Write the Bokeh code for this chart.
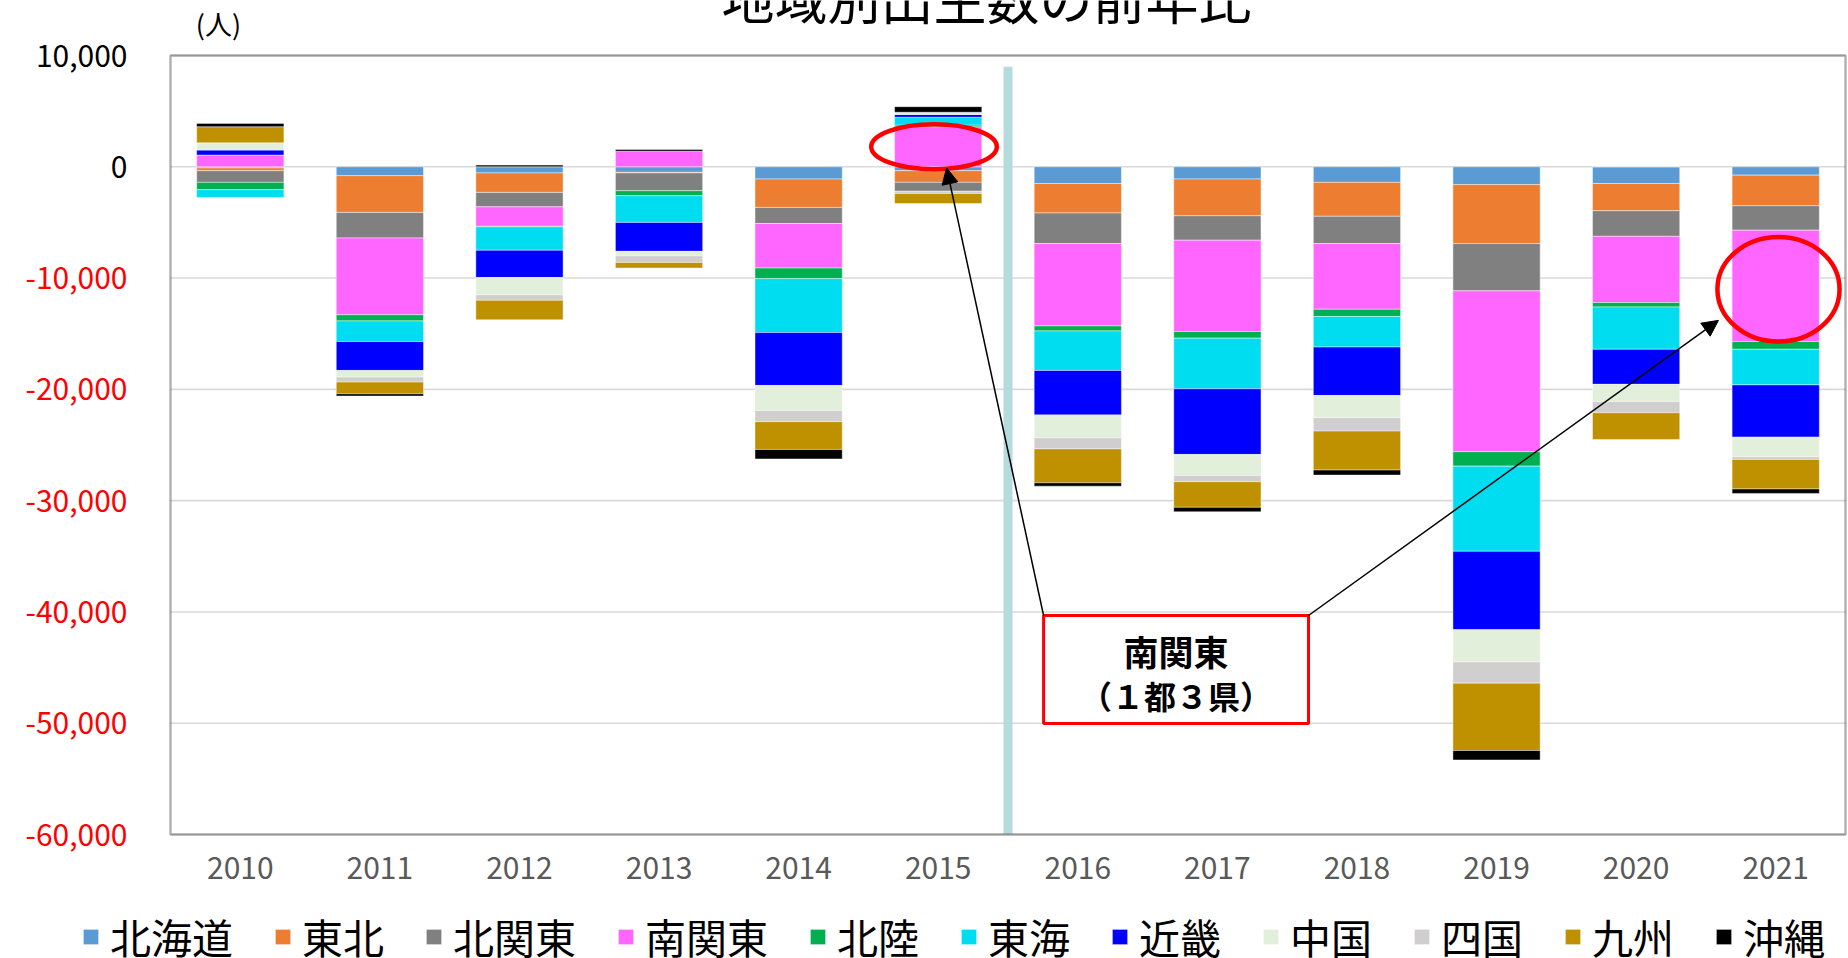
from bokeh.plotting import figure
from bokeh.models import (ColumnDataSource, Range1d, LinearAxis, FixedTicker,
                          Legend, LegendItem, Label, BoxAnnotation, Arrow, NormalHead)
from bokeh.embed import file_html
from bokeh.resources import INLINE

# ---- data: year-on-year change in births by region (persons) ----
years = ["2010", "2011", "2012", "2013", "2014", "2015",
         "2016", "2017", "2018", "2019", "2020", "2021"]
regions = ["北海道", "東北", "北関東", "南関東", "北陸", "東海",
           "近畿", "中国", "四国", "九州", "沖縄"]

hokkaido     = [-100, -800, -550, -500, -1100, -350, -1500, -1100, -1400, -1600, -1500, -750]
tohoku       = [-250, -3300, -1750, -50, -2550, -1050, -2650, -3300, -3050, -5300, -2450, -2750]
kita_kanto   = [-1050, -2300, -1300, -1600, -1450, -800, -2750, -2200, -2450, -4250, -2300, -2200]
minami_kanto = [1050, -6900, -1750, 1400, -4000, 3600, -7400, -8200, -5900, -14450, -5950, -10000]
hokuriku     = [-650, -550, -50, -450, -950, 150, -450, -600, -650, -1300, -400, -700]
tokai        = [-700, -1850, -2100, -2400, -4850, 700, -3550, -4550, -2750, -7650, -3800, -3200]
kinki        = [450, -2600, -2450, -2600, -4750, 250, -4000, -5900, -4350, -7050, -3150, -4700]
chugoku      = [650, -600, -1550, -400, -2250, 200, -2050, -1900, -2000, -2900, -1550, -1750]
shikoku      = [0, -450, -500, -600, -1000, -200, -1000, -550, -1200, -1900, -1000, -250]
kyushu       = [1450, -1050, -1750, -500, -2500, -900, -3050, -2300, -3500, -6050, -2400, -2650]
okinawa      = [300, -200, 150, 150, -850, 500, -300, -400, -450, -850, 0, -400]

series = [hokkaido, tohoku, kita_kanto, minami_kanto, hokuriku, tokai,
          kinki, chugoku, shikoku, kyushu, okinawa]
colors = ["#5B9BD5", "#ED7D31", "#808080", "#FF66FF", "#00B050", "#00DCF0",
          "#0000FF", "#E2EFDA", "#D0CECE", "#BF9000", "#000000"]

y_ticks = [10000, 0, -10000, -20000, -30000, -40000, -50000, -60000]
Y_MIN, Y_MAX = -60000, 10000

FONT = "Noto Sans CJK JP"

# ---- canvas geometry: the plot box sits inside a full-canvas frame ----
W, H = 1848, 958
BOX_L, BOX_R, BOX_T, BOX_B = 170, 1845, 55, 834          # pixels
n = len(years)
ppx = (BOX_R - BOX_L) / n                                 # pixels per category
ppy = (BOX_B - BOX_T) / (Y_MAX - Y_MIN)                   # pixels per person

x_range = Range1d(-BOX_L / ppx, n + (W - BOX_R) / ppx)
y_range = Range1d(Y_MIN - (H - BOX_B) / ppy, Y_MAX + BOX_T / ppy)

p = figure(width=W, height=H, x_range=x_range, y_range=y_range,
           x_axis_type=None, y_axis_type=None,
           output_backend="svg", toolbar_location=None,
           min_border=0, min_border_left=0, min_border_right=0,
           min_border_top=0, min_border_bottom=0)
p.title.visible = False
p.outline_line_color = None
p.background_fill_color = "white"
p.border_fill_color = "white"
p.xgrid.visible = False
p.ygrid.visible = False

xs = [i + 0.5 for i in range(n)]

# horizontal grid lines across the plot box
p.segment(x0=[0] * len(y_ticks), x1=[n] * len(y_ticks), y0=y_ticks, y1=y_ticks,
          line_color="#D9D9D9", line_width=1.6)

# divider between 2015 and 2016
div_x = years.index("2016")
p.segment(x0=[div_x], y0=[Y_MIN], x1=[div_x], y1=[9000],
          line_color="#B4DCDF", line_width=9)

# ---- stacked bars: positives stacked upward, negatives downward ----
pos_base = [0] * n
neg_base = [0] * n
renderers = []
stack_ranges = {}
for name, vals, col in zip(regions, series, colors):
    bottoms, tops = [], []
    for i, v in enumerate(vals):
        if v >= 0:
            b = pos_base[i]
            pos_base[i] = b + v
        else:
            b = neg_base[i]
            neg_base[i] = b + v
        bottoms.append(b)
        tops.append(b + v)
    stack_ranges[name] = (bottoms, tops)
    src = ColumnDataSource(dict(x=xs, bottom=bottoms, top=tops))
    r = p.vbar(x="x", bottom="bottom", top="top", width=0.625, source=src,
               fill_color=col, line_color="white", line_width=0.8, line_alpha=0.55)
    renderers.append(r)

# plot box outline
p.add_layout(BoxAnnotation(left=0, right=n, top=Y_MAX, bottom=Y_MIN,
                           fill_alpha=0, line_color="black", line_width=2.5))

# ---- x axis (years), pinned to the bottom of the plot box ----
xaxis = LinearAxis(ticker=FixedTicker(ticks=xs, minor_ticks=[]),
                   major_label_overrides={x: yr for x, yr in zip(xs, years)},
                   fixed_location=Y_MIN)
xaxis.axis_line_color = None
xaxis.major_tick_line_color = None
xaxis.minor_tick_line_color = None
xaxis.major_tick_out = 0
xaxis.major_tick_in = 0
xaxis.major_label_standoff = 22
xaxis.major_label_text_font = FONT
xaxis.major_label_text_font_size = "30px"
xaxis.major_label_text_color = "#595959"
p.add_layout(xaxis, "below")

# ---- y axes pinned to the left edge: black for >= 0, red for < 0 ----
def y_axis(ticks, color):
    ax = LinearAxis(ticker=FixedTicker(ticks=ticks, minor_ticks=[]),
                    major_label_overrides={float(t): f"{t:,}" for t in ticks},
                    fixed_location=0)
    ax.axis_line_color = None
    ax.major_tick_line_color = None
    ax.minor_tick_line_color = None
    ax.major_tick_out = 0
    ax.major_tick_in = 0
    ax.major_label_standoff = 43
    ax.major_label_text_font = FONT
    ax.major_label_text_font_size = "30px"
    ax.major_label_text_color = color
    return ax

p.add_layout(y_axis([t for t in y_ticks if t >= 0], "black"), "left")
p.add_layout(y_axis([t for t in y_ticks if t < 0], "#FF0000"), "left")

# ---- title and unit ----
p.add_layout(Label(x=(986 - BOX_L) / ppx, y=Y_MAX + (BOX_T + 4) / ppy,
                   text="地域別出生数の前年比", text_align="center",
                   text_baseline="alphabetic", text_font=FONT, text_font_size="53px",
                   text_color="black"))
p.add_layout(Label(x=(218 - BOX_L) / ppx, y=Y_MAX + (BOX_T - 23) / ppy,
                   text="(人)", text_align="center", text_baseline="middle",
                   text_font=FONT, text_font_size="27px", text_color="black"))

# ---- highlight ellipses on 南関東 ----
b15, t15 = stack_ranges["南関東"][0][5], stack_ranges["南関東"][1][5]
b21, t21 = stack_ranges["南関東"][0][11], stack_ranges["南関東"][1][11]
p.ellipse(x=[xs[5] - 0.03, xs[11] + 0.02], y=[(b15 + t15) / 2, (b21 + t21) / 2 - 300],
          width=[0.9, 0.875], height=[4050, 9400],
          fill_color=None, line_color="#FF0000", line_width=4.5)

# ---- callout box with arrows ----
box_l, box_r, box_t, box_b = 6.255, 8.153, -40320, -50030
p.add_layout(BoxAnnotation(left=box_l, right=box_r, top=box_t, bottom=box_b,
                           fill_color="white", fill_alpha=1.0,
                           line_color="#FF0000", line_width=3, line_alpha=1.0))
p.add_layout(Arrow(x_start=box_l, y_start=box_t, x_end=xs[5] + 0.06, y_end=-100,
                   line_color="black", line_width=1.5,
                   end=NormalHead(size=16, fill_color="black", line_color="black")))
p.add_layout(Arrow(x_start=box_r, y_start=box_t, x_end=11.09, y_end=-13800,
                   line_color="black", line_width=1.5,
                   end=NormalHead(size=16, fill_color="black", line_color="black")))
cx = (box_l + box_r) / 2
p.add_layout(Label(x=cx, y=-43470, text="南関東", text_align="center",
                   text_baseline="middle", text_font=FONT, text_font_size="35px",
                   text_font_style="bold", text_color="black"))
p.add_layout(Label(x=cx, y=-47430, text="（１都３県）", text_align="center",
                   text_baseline="middle", text_font=FONT, text_font_size="32px",
                   text_font_style="bold", text_color="black"))

# ---- legend along the bottom ----
legend = Legend(items=[LegendItem(label=nm, renderers=[r]) for nm, r in zip(regions, renderers)],
                orientation="horizontal", location=(81, -8))
legend.label_text_font = FONT
legend.label_text_font_size = "41px"
legend.label_text_color = "black"
legend.glyph_width = 19
legend.glyph_height = 19
legend.label_standoff = 10
legend.spacing = 40
legend.padding = 0
legend.margin = 0
legend.border_line_color = None
legend.background_fill_alpha = 0
p.add_layout(legend)

open("out.html", "w").write(file_html(p, INLINE))
